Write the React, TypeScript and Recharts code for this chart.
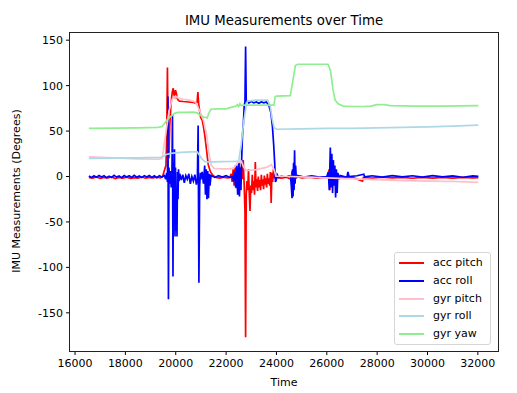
import { LineChart, Line, XAxis, YAxis } from 'recharts';

type Pt = [number, number];

// [time, degrees] pairs
const accPitch: Pt[] = [
  [16550, -1], [16700, -1.8], [16850, -0.6], [17000, -2], [17150, -1], [17300, -1.6], [17450, -0.5],
  [17600, -2.2], [17750, -1.1], [17900, -1.7], [18050, -0.7], [18200, -2], [18350, -1.2], [18500, -1.8],
  [18650, -0.6], [18800, -1.9], [18950, -1], [19100, -1.6], [19250, -0.8], [19400, -1.5],
  [19480, 0], [19530, 5], [19610, 12], [19640, 40], [19670, 120], [19700, 30], [19730, 20], [19760, 55],
  [19800, 75], [19840, 88], [19870, 94], [19900, 97], [19930, 90], [19960, 88], [19990, 95], [20020, 92],
  [20060, 86], [20100, 84], [20150, 83], [20300, 82.5], [20500, 82], [20700, 81.5], [20800, 80.5],
  [20850, 82], [20880, 93], [20910, 80], [20950, 72], [20990, 65], [21050, 62], [21100, 55], [21150, 46],
  [21220, 30], [21290, 13], [21380, 5], [21480, 1],
  [21600, -1], [21750, -1.8], [21900, -0.7], [22050, -1.5],
  [22150, -1], [22200, 3], [22240, -6], [22280, 8], [22320, -10], [22360, 12], [22400, -13], [22440, 6],
  [22480, -8], [22520, 15], [22560, -5], [22600, 10], [22640, -3], [22680, 18], [22720, -10], [22750, -39],
  [22775, -177], [22800, -20], [22830, -5], [22860, -15], [22890, 8], [22920, -18], [22950, -38], [22980, -10],
  [23010, -18], [23040, 2], [23070, -15], [23100, -5], [23130, -20], [23160, 16], [23190, -12], [23220, -3],
  [23250, -16], [23280, 0], [23310, -12], [23340, -4], [23370, -15], [23400, 2], [23430, -10], [23460, -3],
  [23490, -14], [23520, 1], [23550, -9], [23580, -2], [23610, -12], [23640, 3], [23670, -8], [23700, -2],
  [23730, -10], [23760, 5], [23790, -29], [23820, 4], [23850, -6], [23880, 8], [23920, -2], [23960, 1],
  [24000, -1], [24200, -1.8], [24400, -0.8],
  [24580, -3], [24620, 6], [24660, -8], [24700, 5], [24740, -4], [24780, 0],
  [25000, -1.5], [25300, -0.8], [25600, -1.8], [25900, -1],
  [26050, -1], [26090, 8], [26120, -15], [26160, 6], [26200, -10], [26240, 4], [26280, -6], [26320, 2],
  [26360, -3], [26420, -0.5],
  [26700, -1.5], [27000, -0.8], [27420, -5], [27450, -1.2], [27800, -1.8], [28200, -0.8], [28600, -1.6],
  [29000, -1], [29400, -1.9], [29800, -0.9], [30200, -1.7], [30600, -1], [31000, -1.8], [31400, -0.9],
  [31800, -1.5], [32020, -1.2],
];

const accRoll: Pt[] = [
  [16550, 0.5], [16650, -1.2], [16750, 0.8], [16850, -0.9], [16950, 1.1], [17050, -0.6], [17150, 0.9],
  [17250, -1.3], [17350, 0.4], [17450, -1], [17550, 1.2], [17650, -0.7], [17750, 0.6], [17850, -1.2],
  [17950, 1], [18050, -0.5], [18150, 0.8], [18250, -1.1], [18350, 1.3], [18450, -0.8], [18550, 0.5],
  [18650, -1.2], [18750, 0.9], [18850, -0.6], [18950, 1.1], [19050, -1], [19150, 0.7], [19250, -1.3],
  [19350, 0.9], [19450, -0.5],
  [19550, 1], [19600, -3], [19640, 4], [19670, -6], [19690, 88], [19710, -135], [19730, 10], [19760, -8],
  [19790, 6], [19820, -12], [19850, 3], [19870, 68], [19890, -110], [19910, 15], [19930, -40], [19950, 30],
  [19970, -66], [19990, 10], [20010, -60], [20030, -20], [20050, -66], [20070, 5], [20090, -25], [20110, 8],
  [20130, -5],
  [20160, 3], [20220, -4], [20280, 2], [20340, -7], [20400, 1], [20460, -3], [20520, 3], [20580, -8],
  [20640, 0], [20700, -5], [20760, 2], [20820, -9], [20860, -2], [20890, 56], [20920, -117], [20950, -10],
  [20980, 4],
  [21000, -3], [21050, 5], [21100, -8], [21150, 12], [21180, -20], [21210, 8], [21240, -25], [21270, 6],
  [21300, -24], [21330, 3], [21360, -10], [21400, 1],
  [21550, -1], [21700, 0.8], [21850, -0.6], [22000, 1], [22150, -1],
  [22250, 0], [22300, -5], [22340, 6], [22380, -12], [22420, 12], [22460, -20], [22500, 15], [22530, -22],
  [22560, 10], [22590, -15], [22620, 20], [22650, 45], [22690, 60], [22720, 78], [22750, 82], [22775, 143],
  [22800, 83], [22850, 82], [22900, 81], [23000, 82.5], [23100, 81], [23200, 82], [23300, 80.5],
  [23400, 82], [23500, 81], [23600, 82], [23650, 80], [23700, 78], [23780, 70], [23840, 55], [23890, 35],
  [23930, 15], [23960, -6], [23990, -4], [24030, 2], [24080, -1],
  [24200, 0.5], [24350, -0.8], [24500, 0.6],
  [24560, 0], [24590, -10], [24620, -24], [24640, 8], [24660, -22], [24680, 15], [24700, -15], [24720, 29],
  [24740, -8], [24760, 12], [24790, -2], [24830, 1],
  [25100, -0.6], [25400, 0.8], [25700, -0.7], [26000, 0],
  [26060, 5], [26100, -15], [26140, 32], [26170, -12], [26200, 25], [26230, -18], [26260, 18], [26290, -10],
  [26320, 12], [26350, -23], [26380, 8], [26410, -18], [26440, 4], [26480, -3], [26530, 1],
  [26800, -1], [26840, 5], [26880, 0], [27200, 0.8], [27470, 2.5], [27500, -0.5], [27800, 0.8],
  [28200, -0.6], [28600, 0.9], [29000, -0.5], [29400, 0.8], [29800, -0.7], [30200, 0.9], [30600, -0.5],
  [31000, 0.7], [31400, -0.8], [31800, 0.6], [32020, 0.2],
];

const gyrPitch: Pt[] = [
  [16550, 21.5], [17500, 20.5], [18500, 19.5], [19350, 19], [19466, 20], [19598, 46], [19731, 72],
  [19863, 85], [19995, 88.5], [20100, 86.5], [20300, 85], [20550, 84], [20780, 82], [20855, 78],
  [20988, 70], [21100, 62], [21230, 45], [21320, 25], [21420, 12], [21520, 9], [21800, 8.5], [22200, 8.5],
  [22330, 10], [22450, 15], [22600, 17], [22700, 10], [22800, 6.5], [23200, 7.5], [23600, 10],
  [23800, 13], [23900, 8], [23980, 0.5], [24500, 0], [25000, -0.5], [26000, -1.5], [27000, -2.5],
  [28000, -3.5], [29000, -4.5], [30000, -5], [31000, -5.5], [32020, -6.5],
];

const gyrRoll: Pt[] = [
  [16550, 20], [17500, 20.3], [18500, 20.6], [19400, 21], [19500, 22], [19600, 24], [19800, 25.5],
  [20200, 26.5], [20600, 27], [20850, 27], [20950, 23], [21050, 19], [21150, 16.5], [21300, 15.8],
  [21800, 16.3], [22300, 16.5], [22500, 17], [22600, 35], [22700, 60], [22800, 78], [22850, 83],
  [23200, 84], [23650, 84], [23750, 78], [23820, 65], [23900, 54], [24000, 52], [25000, 52.5],
  [26000, 53], [27000, 53], [28000, 53.5], [29000, 54], [30000, 54.5], [31000, 55.5], [32020, 56.5],
];

const gyrYaw: Pt[] = [
  [16550, 53], [17500, 53.3], [18500, 53.5], [19300, 54], [19450, 55], [19550, 58], [19650, 62],
  [19750, 65], [19850, 67], [19950, 69.5], [20100, 70.5], [20400, 70.5], [20700, 70.8], [20850, 70],
  [20950, 68], [21100, 65.5], [21250, 64.5], [21320, 70], [21400, 74], [21600, 74.5], [22000, 74.5],
  [22200, 76], [22400, 77.5], [22450, 79], [22500, 77], [22550, 80], [22600, 78], [22700, 78.5],
  [23000, 78.5], [23500, 78.5], [23900, 78.5], [23950, 88], [24000, 88.5], [24550, 89], [24650, 105],
  [24750, 122], [24850, 123.5], [25500, 123.5], [26050, 123.5], [26150, 116], [26250, 95], [26330, 84],
  [26450, 80], [26650, 77.5], [27000, 77], [27500, 77], [27750, 77.5], [28000, 79], [28300, 79],
  [28500, 78], [29500, 77.5], [30500, 77.5], [32020, 78],
];

const xTicks = [16000, 18000, 20000, 22000, 24000, 26000, 28000, 30000, 32000];
const yTicks = [-150, -100, -50, 0, 50, 100, 150];

const series = [
  { name: 'acc pitch', color: 'red', points: accPitch },
  { name: 'acc roll', color: 'blue', points: accRoll },
  { name: 'gyr pitch', color: 'pink', points: gyrPitch },
  { name: 'gyr roll', color: 'lightblue', points: gyrRoll },
  { name: 'gyr yaw', color: 'lightgreen', points: gyrYaw },
];

const toRows = (pts: Pt[]) => pts.map(([t, v]) => ({ t, v }));

const font = 'DejaVu Sans, sans-serif';
const tickStyle = { fill: '#000', fontSize: 11, fontFamily: font };

export default function App() {
  return (
    <div style={{ position: 'absolute', left: 0, top: 0, width: 517, height: 393, background: '#fff', fontFamily: font }}>
      <div style={{ position: 'absolute', left: 284, top: 20, transform: 'translate(-50%, -50%)', fontSize: 13.3, whiteSpace: 'nowrap' }}>
        IMU Measurements over Time
      </div>
      <div style={{ position: 'absolute', left: 284, top: 382, transform: 'translate(-50%, -50%)', fontSize: 11, whiteSpace: 'nowrap' }}>
        Time
      </div>
      <div style={{ position: 'absolute', left: 16, top: 191, transform: 'translate(-50%, -50%) rotate(-90deg)', fontSize: 11, whiteSpace: 'nowrap' }}>
        IMU Measurements (Degrees)
      </div>
      <LineChart width={517} height={393} margin={{ top: 32, right: 19, bottom: 0, left: 0 }}>
        <XAxis
          dataKey="t"
          type="number"
          domain={[15800, 32800]}
          ticks={xTicks}
          height={42}
          tickSize={4}
          tickMargin={4}
          stroke="#000"
          axisLine={false}
          tick={tickStyle}
          allowDataOverflow
        />
        <YAxis
          type="number"
          domain={[-192, 159]}
          ticks={yTicks}
          width={70}
          tickSize={4}
          tickMargin={3}
          stroke="#000"
          axisLine={false}
          tick={tickStyle}
          allowDataOverflow
        />
        {series.map((s) => (
          <Line
            key={s.name}
            data={toRows(s.points)}
            dataKey="v"
            name={s.name}
            type="linear"
            stroke={s.color}
            strokeWidth={1.7}
            dot={false}
            activeDot={false}
            isAnimationActive={false}
          />
        ))}
      </LineChart>
      {/* axes frame (all four spines) */}
      <div
        style={{
          position: 'absolute',
          left: 69,
          top: 32,
          width: 430,
          height: 320,
          boxSizing: 'border-box',
          border: '1px solid #222',
          pointerEvents: 'none',
        }}
      />
      <div
        style={{
          position: 'absolute',
          left: 394,
          top: 252,
          width: 97,
          height: 93,
          boxSizing: 'border-box',
          border: '1px solid #d6d6d6',
          borderRadius: 3,
          background: 'rgba(255,255,255,0.8)',
        }}
      >
        {series.map((s, i) => (
          <div key={s.name} style={{ position: 'absolute', left: 0, top: 10 + i * 17.8, height: 0 }}>
            <div style={{ position: 'absolute', left: 4, top: -1, width: 25, height: 2, background: s.color }} />
            <div style={{ position: 'absolute', left: 38, top: -7, fontSize: 11, lineHeight: '13px', whiteSpace: 'nowrap' }}>
              {s.name}
            </div>
          </div>
        ))}
      </div>
    </div>
  );
}
